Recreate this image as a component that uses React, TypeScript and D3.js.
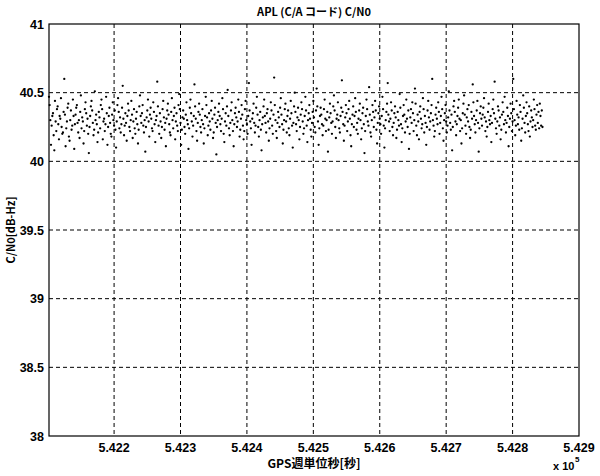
import React from "react";
import * as d3 from "d3";

const title = "APL (C/A コード) C/N0";
const xLabel = "GPS週単位秒[秒]";
const yLabel = "C/N0[dB-Hz]";
const xDomain = [542102, 542900];
const yDomain = [38, 41];
const xTicks = [542200, 542300, 542400, 542500, 542600, 542700, 542800, 542900];
const yTicks = [38, 38.5, 39, 39.5, 40, 40.5, 41];
const startTime = 542102;
const stepSec = 1;

const cn0 = [
  40.47, 40.41, 40.30, 40.12, 40.26, 40.33, 40.35, 40.19, 40.08, 40.44,
  40.29, 40.22, 40.38, 40.40, 40.27, 40.16, 40.33, 40.31, 40.46, 40.25,
  40.20, 40.21, 40.36, 40.60, 40.34, 40.11, 40.24, 40.29, 40.39, 40.42,
  40.18, 40.15, 40.30, 40.37, 40.23, 40.26, 40.45, 40.33, 40.09, 40.27,
  40.34, 40.39, 40.41, 40.28, 40.21, 40.30, 40.17, 40.36, 40.48, 40.24,
  40.32, 40.29, 40.13, 40.22, 40.38, 40.43, 40.35, 40.26, 40.31, 40.20,
  40.06, 40.25, 40.33, 40.40, 40.44, 40.37, 40.28, 40.19, 40.23, 40.51,
  40.30, 40.34, 40.27, 40.14, 40.21, 40.36, 40.32, 40.24, 40.41, 40.45,
  40.38, 40.16, 40.29, 40.31, 40.22, 40.27, 40.47, 40.35, 40.12, 40.25,
  40.33, 40.39, 40.28, 40.20, 40.18, 40.34, 40.43, 40.30, 40.26, 40.37,
  40.23, 40.10, 40.29, 40.41, 40.46, 40.36, 40.24, 40.32, 40.21, 40.27,
  40.39, 40.55, 40.31, 40.19, 40.26, 40.35, 40.28, 40.15, 40.33, 40.42,
  40.37, 40.25, 40.22, 40.30, 40.44, 40.34, 40.17, 40.29, 40.38, 40.24,
  40.20, 40.31, 40.36, 40.27, 40.13, 40.23, 40.40, 40.48, 40.33, 40.28,
  40.35, 40.41, 40.26, 40.21, 40.30, 40.07, 40.25, 40.32, 40.37, 40.45,
  40.29, 40.18, 40.34, 40.39, 40.31, 40.24, 40.22, 40.43, 40.36, 40.27,
  40.14, 40.30, 40.33, 40.58, 40.40, 40.26, 40.20, 40.35, 40.29, 40.17,
  40.25, 40.38, 40.44, 40.32, 40.23, 40.28, 40.11, 40.31, 40.37, 40.42,
  40.34, 40.27, 40.21, 40.19, 40.36, 40.46, 40.30, 40.24, 40.33, 40.39,
  40.16, 40.29, 40.35, 40.26, 40.22, 40.41, 40.49, 40.38, 40.28, 40.12,
  40.23, 40.32, 40.37, 40.31, 40.25, 40.20, 40.34, 40.43, 40.30, 40.27,
  40.09, 40.24, 40.39, 40.45, 40.35, 40.29, 40.18, 40.26, 40.33, 40.56,
  40.40, 40.31, 40.22, 40.15, 40.28, 40.36, 40.42, 40.34, 40.25, 40.21,
  40.30, 40.38, 40.27, 40.13, 40.24, 40.33, 40.47, 40.41, 40.32, 40.19,
  40.26, 40.35, 40.29, 40.23, 40.37, 40.44, 40.31, 40.17, 40.21, 40.34,
  40.39, 40.28, 40.05, 40.25, 40.30, 40.36, 40.42, 40.33, 40.27, 40.22,
  40.31, 40.46, 40.38, 40.20, 40.14, 40.29, 40.35, 40.26, 40.40, 40.52,
  40.33, 40.24, 40.19, 40.28, 40.37, 40.43, 40.30, 40.22, 40.11, 40.27,
  40.35, 40.39, 40.32, 40.25, 40.29, 40.45, 40.36, 40.18, 40.23, 40.31,
  40.41, 40.34, 40.26, 40.16, 40.22, 40.38, 40.44, 40.30, 40.27, 40.20,
  40.33, 40.57, 40.37, 40.29, 40.24, 40.12, 40.31, 40.35, 40.42, 40.28,
  40.21, 40.26, 40.39, 40.47, 40.34, 40.25, 40.18, 40.30, 40.36, 40.23,
  40.08, 40.27, 40.32, 40.40, 40.45, 40.33, 40.28, 40.21, 40.35, 40.38,
  40.29, 40.15, 40.24, 40.31, 40.43, 40.37, 40.26, 40.20, 40.34, 40.61,
  40.41, 40.30, 40.22, 40.17, 40.28, 40.36, 40.32, 40.25, 40.39, 40.46,
  40.34, 40.27, 40.13, 40.23, 40.30, 40.38, 40.42, 40.29, 40.21, 40.33,
  40.37, 40.24, 40.19, 40.31, 40.44, 40.35, 40.26, 40.10, 40.28, 40.40,
  40.50, 40.36, 40.27, 40.22, 40.32, 40.39, 40.30, 40.16, 40.25, 40.34,
  40.43, 40.38, 40.29, 40.20, 40.24, 40.33, 40.47, 40.37, 40.26, 40.14,
  40.30, 40.35, 40.41, 40.31, 40.23, 40.18, 40.28, 40.36, 40.44, 40.32,
  40.25, 40.21, 40.37, 40.53, 40.40, 40.29, 40.12, 40.24, 40.33, 40.39,
  40.34, 40.27, 40.19, 40.26, 40.38, 40.45, 40.31, 40.22, 40.30, 40.36,
  40.07, 40.23, 40.32, 40.42, 40.35, 40.28, 40.20, 40.29, 40.40, 40.48,
  40.37, 40.25, 40.17, 40.31, 40.34, 40.43, 40.30, 40.24, 40.21, 40.33,
  40.39, 40.59, 40.36, 40.27, 40.15, 40.26, 40.32, 40.41, 40.35, 40.22,
  40.29, 40.38, 40.44, 40.31, 40.19, 40.11, 40.27, 40.34, 40.40, 40.25,
  40.33, 40.46, 40.36, 40.23, 40.28, 40.20, 40.31, 40.37, 40.42, 40.30,
  40.16, 40.24, 40.35, 40.39, 40.27, 40.06, 40.22, 40.33, 40.45, 40.38,
  40.29, 40.26, 40.54, 40.34, 40.21, 40.18, 40.30, 40.41, 40.36, 40.25,
  40.32, 40.44, 40.37, 40.23, 40.13, 40.28, 40.35, 40.40, 40.31, 40.27,
  40.20, 40.33, 40.47, 40.38, 40.26, 40.10, 40.24, 40.30, 40.36, 40.42,
  40.57, 40.34, 40.29, 40.22, 40.31, 40.43, 40.37, 40.25, 40.19, 40.28,
  40.35, 40.40, 40.32, 40.17, 40.23, 40.36, 40.30, 40.26, 40.49, 40.39,
  40.27, 40.14, 40.24, 40.33, 40.41, 40.34, 40.21, 40.29, 40.45, 40.31,
  40.25, 40.37, 40.09, 40.20, 40.32, 40.38, 40.28, 40.43, 40.35, 40.22,
  40.30, 40.53, 40.42, 40.26, 40.19, 40.34, 40.29, 40.16, 40.36, 40.40,
  40.31, 40.24, 40.27, 40.46, 40.38, 40.21, 40.33, 40.28, 40.12, 40.25,
  40.37, 40.44, 40.32, 40.23, 40.29, 40.35, 40.41, 40.60, 40.30, 40.26,
  40.18, 40.22, 40.34, 40.39, 40.31, 40.27, 40.43, 40.36, 40.20, 40.28,
  40.33, 40.47, 40.38, 40.24, 40.15, 40.30, 40.35, 40.41, 40.29, 40.21,
  40.26, 40.32, 40.51, 40.37, 40.28, 40.23, 40.34, 40.08, 40.25, 40.40,
  40.44, 40.36, 40.29, 40.19, 40.27, 40.33, 40.39, 40.45, 40.31, 40.22,
  40.30, 40.13, 40.24, 40.35, 40.42, 40.48, 40.34, 40.26, 40.20, 40.32,
  40.38, 40.29, 40.41, 40.25, 40.17, 40.23, 40.36, 40.31, 40.56, 40.43,
  40.33, 40.27, 40.21, 40.30, 40.37, 40.44, 40.28, 40.07, 40.24, 40.35,
  40.40, 40.31, 40.26, 40.34, 40.39, 40.46, 40.32, 40.22, 40.29, 40.18,
  40.25, 40.36, 40.42, 40.30, 40.27, 40.33, 40.14, 40.28, 40.38, 40.45,
  40.35, 40.58, 40.31, 40.24, 40.20, 40.29, 40.40, 40.37, 40.26, 40.32,
  40.16, 40.23, 40.34, 40.43, 40.36, 40.27, 40.47, 40.30, 40.21, 40.28,
  40.39, 40.33, 40.11, 40.25, 40.31, 40.42, 40.35, 40.22, 40.29, 40.60,
  40.38, 40.30, 40.19, 40.26, 40.44, 40.34, 40.27, 40.32, 40.23, 40.41,
  40.36, 40.15, 40.24, 40.31, 40.48, 40.39, 40.28, 40.21, 40.33, 40.43,
  40.35, 40.27, 40.22, 40.40, 40.18, 40.29, 40.37, 40.32, 40.25, 40.30,
  40.45, 40.38, 40.26, 40.23, 40.34, 40.41, 40.28, 40.36, 40.24, 40.42,
  40.33, 40.26, 40.37, 40.25,
];

const W = 600;
const H = 476;
const M = { left: 49, right: 579, top: 24, bottom: 436 };

export default function App() {
  const x = d3.scaleLinear().domain(xDomain).range([M.left, M.right]);
  const y = d3.scaleLinear().domain(yDomain).range([M.bottom, M.top]);
  const tickFont = "'Liberation Sans', Arial, sans-serif";
  const jpFont = "'Noto Sans CJK JP', sans-serif";
  const dash = "4,3";

  return (
    <svg
      width={W}
      height={H}
      style={{ position: "absolute", left: 0, top: 0, background: "#fff" }}
    >
      <rect x={0} y={0} width={W} height={H} fill="#fff" />
      {xTicks
        .filter((t) => x(t) < M.right - 1)
        .map((t) => (
          <line
            key={"gx" + t}
            x1={x(t)}
            x2={x(t)}
            y1={M.top}
            y2={M.bottom}
            stroke="#000"
            strokeWidth={1}
            strokeDasharray={dash}
          />
        ))}
      {yTicks
        .filter((t) => y(t) > M.top + 1 && y(t) < M.bottom - 1)
        .map((t) => (
          <line
            key={"gy" + t}
            x1={M.left}
            x2={M.right}
            y1={y(t)}
            y2={y(t)}
            stroke="#000"
            strokeWidth={1}
            strokeDasharray={dash}
          />
        ))}
      {cn0.map((v, i) => (
        <circle
          key={i}
          cx={x(startTime + i * stepSec)}
          cy={y(v)}
          r={1.15}
          fill="#000"
        />
      ))}
      <rect
        x={M.left}
        y={M.top}
        width={M.right - M.left}
        height={M.bottom - M.top}
        fill="none"
        stroke="#000"
        strokeWidth={1.2}
      />
      {yTicks.map((t) => (
        <text
          key={"ly" + t}
          x={M.left - 5}
          y={y(t) + 4.5}
          textAnchor="end"
          fontFamily={tickFont}
          fontWeight="bold"
          fontSize={12.5}
          fill="#000"
        >
          {d3.format("")(t)}
        </text>
      ))}
      {xTicks.map((t) => (
        <text
          key={"lx" + t}
          x={x(t)}
          y={452}
          textAnchor="middle"
          fontFamily={tickFont}
          fontWeight="bold"
          fontSize={12.5}
          fill="#000"
        >
          {(t / 1e5).toFixed(3)}
        </text>
      ))}
      <text
        x={(M.left + M.right) / 2}
        y={16}
        textAnchor="middle"
        fontFamily={jpFont}
        fontSize={11}
        fontWeight="bold"
        fill="#000"
      >
        {title}
      </text>
      <text
        x={(M.left + M.right) / 2}
        y={468}
        textAnchor="middle"
        fontFamily={jpFont}
        fontSize={12}
        fontWeight="bold"
        fill="#000"
      >
        {xLabel}
      </text>
      <text
        x={553}
        y={470}
        fontFamily={tickFont}
        fontWeight="bold"
        fontSize={11}
        fill="#000"
      >
        x 10
      </text>
      <text
        x={575}
        y={462}
        fontFamily={tickFont}
        fontWeight="bold"
        fontSize={8}
        fill="#000"
      >
        5
      </text>
      <text
        transform={`translate(15, ${(M.top + M.bottom) / 2}) rotate(-90)`}
        textAnchor="middle"
        fontFamily={jpFont}
        fontSize={11}
        fontWeight="bold"
        fill="#000"
      >
        {yLabel}
      </text>
    </svg>
  );
}
